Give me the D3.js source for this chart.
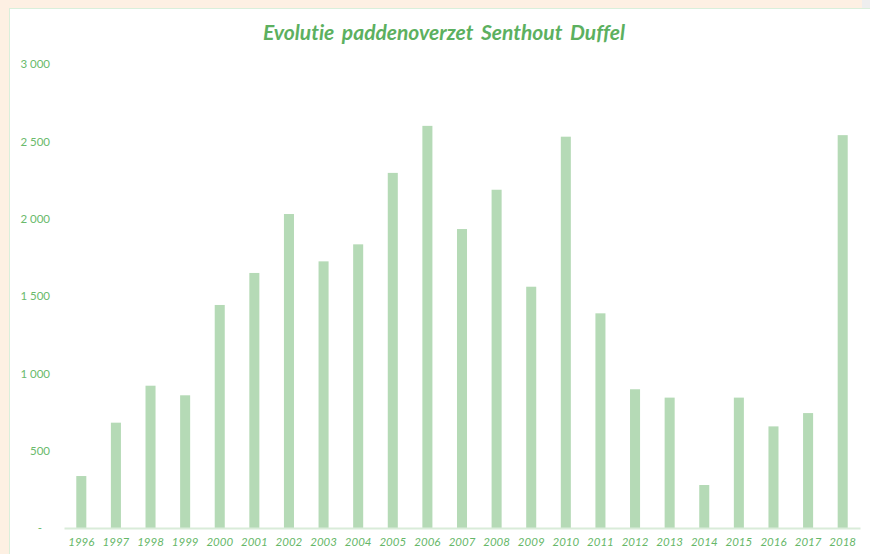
<!DOCTYPE html>
<html>
<head>
<meta charset="utf-8">
<script src="https://cdn.jsdelivr.net/npm/d3@7"></script>
<style>
  html, body { margin: 0; padding: 0; background: #fdf0e3; }
  svg { display: block; }
  text { font-variant-ligatures: none; }
</style>
</head>
<body>
<div id="chart"></div>
<script>
// Paddenoverzet per jaar
var years = ["1996","1997","1998","1999","2000","2001","2002","2003","2004","2005","2006","2007",
             "2008","2009","2010","2011","2012","2013","2014","2015","2016","2017","2018"];
var counts = [336, 681, 920, 858, 1442, 1649, 2030, 1724, 1834, 2296, 2600, 1933,
              2187, 1560, 2530, 1388, 897, 843, 278, 843, 657, 743, 2540];
var yTicks = [0, 500, 1000, 1500, 2000, 2500, 3000];
var title = "Evolutie paddenoverzet Senthout Duffel";

var svgWidth = 870, svgHeight = 554;
var margin = { top: 64, right: 10, bottom: 26, left: 64 };
var chartWidth = svgWidth - margin.left - margin.right;
var chartHeight = svgHeight - margin.top - margin.bottom;

var svg = d3.select("#chart").append("svg")
  .attr("width", svgWidth)
  .attr("height", svgHeight);

// peach frame + white chart area
svg.append("rect").attr("x", 862).attr("y", 0).attr("width", 8).attr("height", 8).attr("fill", "#eeeeee");
svg.append("rect")
  .attr("x", 9.5).attr("y", 8.5)
  .attr("width", 870).attr("height", 560)
  .attr("fill", "#ffffff")
  .attr("stroke", "#d9efdb");

svg.append("text")
  .attr("x", 444)
  .attr("y", 40)
  .attr("text-anchor", "middle")
  .attr("font-family", "Lato, 'Open Sans', sans-serif")
  .attr("font-style", "italic")
  .attr("font-weight", "700")
  .attr("font-size", "21px")
  .attr("fill", "#5cb05f")
  .style("word-spacing", "3px")
  .text(title);

var chartGroup = svg.append("g")
  .attr("transform", `translate(${margin.left}, ${margin.top})`);

var xScale = d3.scaleBand()
  .domain(years)
  .range([0, chartWidth])
  .paddingInner(0.71)
  .paddingOuter(0.355);

var yScale = d3.scaleLinear()
  .domain([0, 3000])
  .range([chartHeight, 0]);

// y axis labels only (no line, no ticks)
var fmt = function(d) { return d === 0 ? "-" : d3.format(",")(d).replace(",", " "); };
var leftAxis = d3.axisLeft(yScale).tickValues(yTicks).tickFormat(fmt).tickSize(0).tickPadding(14);
var yAxis = chartGroup.append("g").call(leftAxis);
yAxis.select(".domain").remove();
yAxis.selectAll("text")
  .attr("font-family", "Lato, 'Open Sans', sans-serif")
  .attr("font-size", "11.5px")
  .attr("fill", "#6aba6c");
yAxis.selectAll("text").filter(d => d === 0).attr("dx", "-8");

// bars
chartGroup.selectAll("rect.bar")
  .data(counts)
  .enter()
  .append("rect")
  .attr("class", "bar")
  .attr("x", (d, i) => xScale(years[i]))
  .attr("y", d => yScale(d))
  .attr("width", xScale.bandwidth())
  .attr("height", d => chartHeight - yScale(d))
  .attr("fill", "#b5dab6");

// x axis
var bottomAxis = d3.axisBottom(xScale).tickSize(0).tickPadding(10);
var xAxis = chartGroup.append("g")
  .attr("transform", `translate(0, ${chartHeight})`)
  .call(bottomAxis);
xAxis.select(".domain").attr("stroke", "#d9ecd9").attr("stroke-width", 2);
xAxis.selectAll("text")
  .attr("font-family", "Lato, 'Open Sans', sans-serif")
  .attr("font-style", "italic")
  .attr("font-size", "11.5px")
  .attr("fill", "#66b768");
</script>
</body>
</html>
